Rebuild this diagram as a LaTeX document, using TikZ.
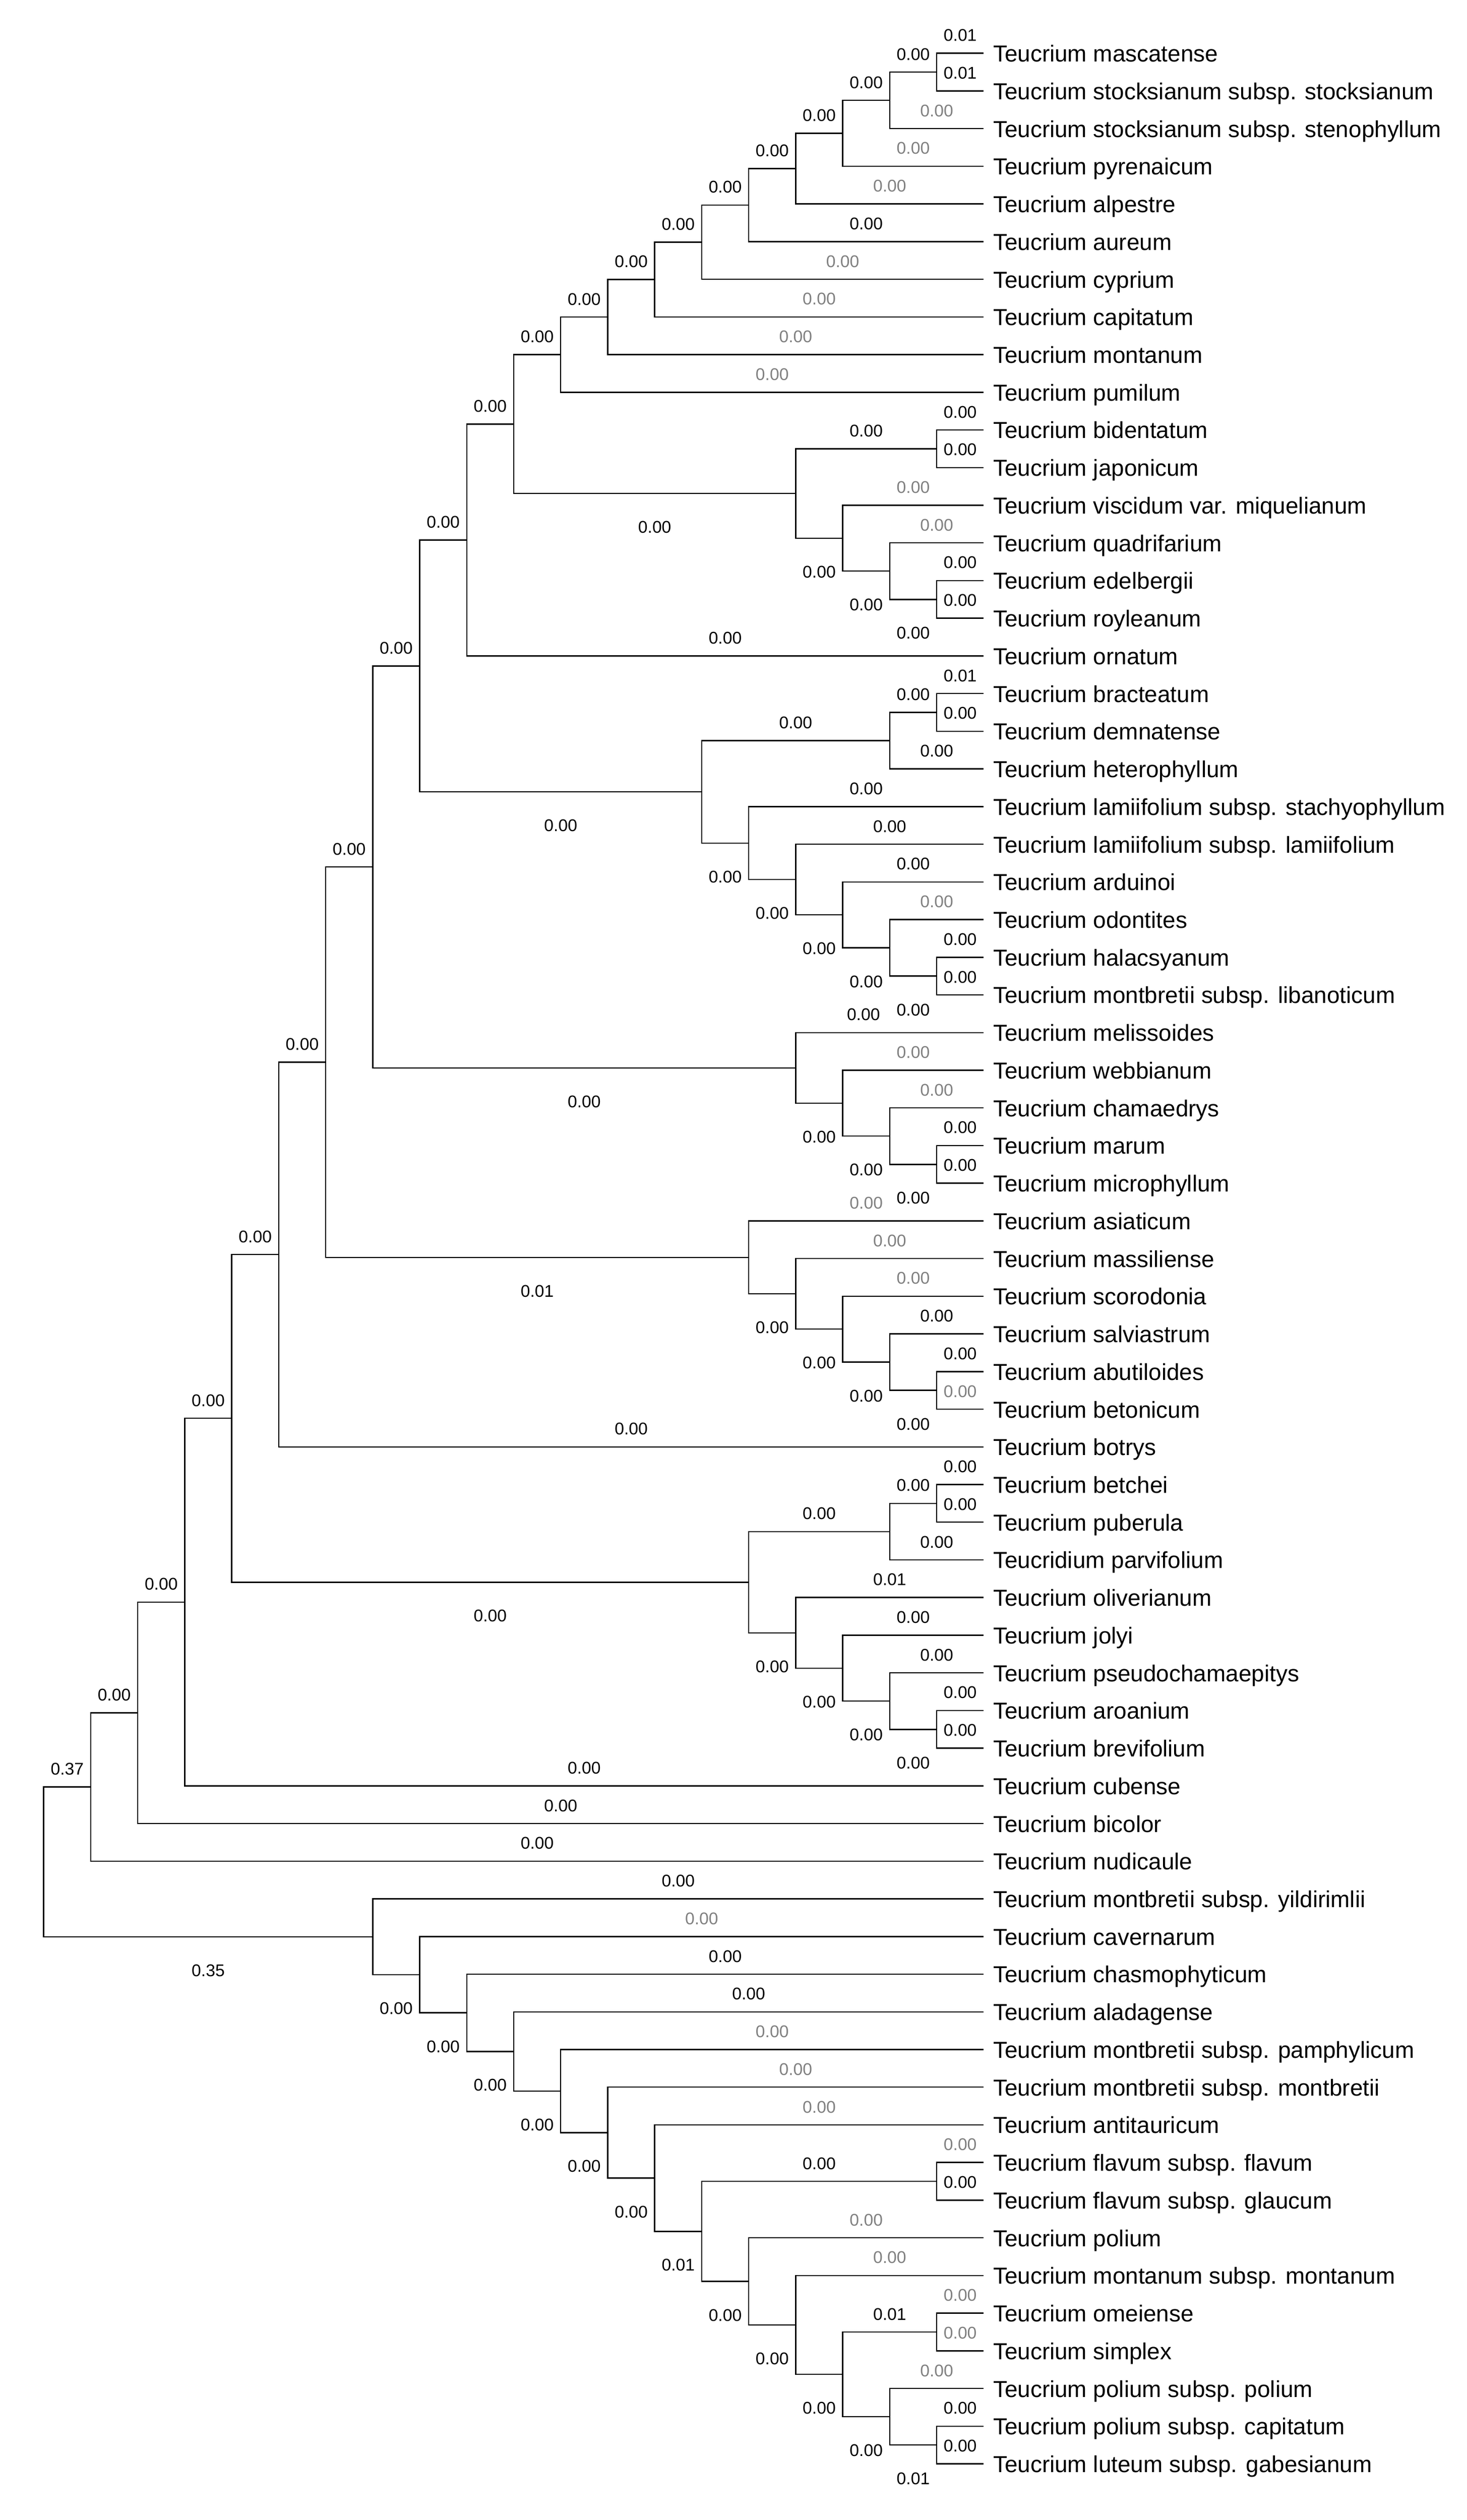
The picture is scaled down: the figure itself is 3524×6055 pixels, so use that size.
\documentclass[tikz,border=0pt]{standalone}
\usepackage{fontspec}
\setmainfont{Liberation Sans}
\usetikzlibrary{calc}

\definecolor{numgray}{RGB}{128,128,128}

% #1 name, #2 height, #3 upper child, #4 lower child,
% #5 upper label options, #6 upper label, #7 lower label options, #8 lower label
\newcommand{\clade}[8]{%
  \coordinate (#1-mid) at ($(#3)!0.5!(#4)$);
  \pgfmathsetmacro{\cladex}{2363-112.9*#2}
  \coordinate (#1) at (\cladex,0 |- #1-mid);
  \draw[branch] (#3) -| (#1) |- (#4);
  \node[blabel, lblup, #5] (#1-u) at ($(#1 |- #3)!0.5!(#3)$) {#6};
  \node[blabel, #7] (#1-l) at ($(#1 |- #4)!0.5!(#4)$) {#8};
}

\begin{document}
\begin{tikzpicture}[x=0.01cm, y=-0.01cm,
    branch/.style={line width=0.85pt},
    taxon/.style={anchor=base west, inner sep=0pt, xshift=0.22cm, yshift=-0.205cm,
      font=\fontsize{15.8}{19}\selectfont},
    blabel/.style={anchor=base, inner sep=0pt, font=\fontsize{11.6}{14}\selectfont},
    lblup/.style={yshift=0.29cm},
    lbldown/.style={yshift=-0.95cm},
    faint/.style={text=numgray}]

  \useasboundingbox (0,0) rectangle (3524,6055);

  % leaves
  \foreach \taxname [count=\i] in {
      Teucrium mascatense,
      Teucrium stocksianum subsp. stocksianum,
      Teucrium stocksianum subsp. stenophyllum,
      Teucrium pyrenaicum,
      Teucrium alpestre,
      Teucrium aureum,
      Teucrium cyprium,
      Teucrium capitatum,
      Teucrium montanum,
      Teucrium pumilum,
      Teucrium bidentatum,
      Teucrium japonicum,
      Teucrium viscidum var. miquelianum,
      Teucrium quadrifarium,
      Teucrium edelbergii,
      Teucrium royleanum,
      Teucrium ornatum,
      Teucrium bracteatum,
      Teucrium demnatense,
      Teucrium heterophyllum,
      Teucrium lamiifolium subsp. stachyophyllum,
      Teucrium lamiifolium subsp. lamiifolium,
      Teucrium arduinoi,
      Teucrium odontites,
      Teucrium halacsyanum,
      Teucrium montbretii subsp. libanoticum,
      Teucrium melissoides,
      Teucrium webbianum,
      Teucrium chamaedrys,
      Teucrium marum,
      Teucrium microphyllum,
      Teucrium asiaticum,
      Teucrium massiliense,
      Teucrium scorodonia,
      Teucrium salviastrum,
      Teucrium abutiloides,
      Teucrium betonicum,
      Teucrium botrys,
      Teucrium betchei,
      Teucrium puberula,
      Teucridium parvifolium,
      Teucrium oliverianum,
      Teucrium jolyi,
      Teucrium pseudochamaepitys,
      Teucrium aroanium,
      Teucrium brevifolium,
      Teucrium cubense,
      Teucrium bicolor,
      Teucrium nudicaule,
      Teucrium montbretii subsp. yildirimlii,
      Teucrium cavernarum,
      Teucrium chasmophyticum,
      Teucrium aladagense,
      Teucrium montbretii subsp. pamphylicum,
      Teucrium montbretii subsp. montbretii,
      Teucrium antitauricum,
      Teucrium flavum subsp. flavum,
      Teucrium flavum subsp. glaucum,
      Teucrium polium,
      Teucrium montanum subsp. montanum,
      Teucrium omeiense,
      Teucrium simplex,
      Teucrium polium subsp. polium,
      Teucrium polium subsp. capitatum,
      Teucrium luteum subsp. gabesianum}{
    \coordinate (L\i) at (2363, {128+(\i-1)*90.5});
    \node[taxon] (T\i) at (L\i) {\taxname};
  }

  % upper group
  \clade{A1}{1}{L1}{L2}{}{0.01}{lblup}{0.01}
  \clade{A2}{2}{A1}{L3}{}{0.00}{lblup,faint}{0.00}
  \clade{A3}{3}{A2}{L4}{}{0.00}{lblup,faint}{0.00}
  \clade{A4}{4}{A3}{L5}{}{0.00}{lblup,faint}{0.00}
  \clade{A5}{5}{A4}{L6}{}{0.00}{lblup}{0.00}
  \clade{A6}{6}{A5}{L7}{}{0.00}{lblup,faint}{0.00}
  \clade{A7}{7}{A6}{L8}{}{0.00}{lblup,faint}{0.00}
  \clade{A8}{8}{A7}{L9}{}{0.00}{lblup,faint}{0.00}
  \clade{A9}{9}{A8}{L10}{}{0.00}{lblup,faint}{0.00}

  \clade{B1}{1}{L11}{L12}{}{0.00}{lblup}{0.00}
  \clade{B2}{1}{L15}{L16}{}{0.00}{lblup}{0.00}
  \clade{B3}{2}{L14}{B2}{faint}{0.00}{lbldown}{0.00}
  \clade{B4}{3}{L13}{B3}{faint}{0.00}{lbldown}{0.00}
  \clade{B5}{4}{B1}{B4}{}{0.00}{lbldown}{0.00}

  \clade{A10}{10}{A9}{B5}{}{0.00}{lbldown}{0.00}
  \clade{A11}{11}{A10}{L17}{}{0.00}{lblup}{0.00}

  \clade{C1}{1}{L18}{L19}{}{0.01}{lblup}{0.00}
  \clade{C2}{2}{C1}{L20}{}{0.00}{lblup}{0.00}
  \clade{C3}{1}{L25}{L26}{}{0.00}{lblup}{0.00}
  \clade{C4}{2}{L24}{C3}{faint}{0.00}{lbldown}{0.00}
  \clade{C5}{3}{L23}{C4}{}{0.00}{lbldown}{0.00}
  \clade{C6}{4}{L22}{C5}{}{0.00}{lbldown}{0.00}
  \clade{C7}{5}{L21}{C6}{}{0.00}{lbldown}{0.00}
  \clade{C8}{6}{C2}{C7}{}{0.00}{lbldown}{0.00}

  \clade{A12}{12}{A11}{C8}{}{0.00}{lbldown}{0.00}

  \clade{D1}{1}{L30}{L31}{}{0.00}{lblup}{0.00}
  \clade{D2}{2}{L29}{D1}{faint}{0.00}{lbldown}{0.00}
  \clade{D3}{3}{L28}{D2}{faint}{0.00}{lbldown}{0.00}
  \clade{D4}{4}{L27}{D3}{xshift=-0.63cm}{0.00}{lbldown}{0.00}

  \clade{A13}{13}{A12}{D4}{}{0.00}{lbldown}{0.00}

  \clade{E1}{1}{L36}{L37}{}{0.00}{lblup,faint}{0.00}
  \clade{E2}{2}{L35}{E1}{}{0.00}{lbldown}{0.00}
  \clade{E3}{3}{L34}{E2}{faint}{0.00}{lbldown}{0.00}
  \clade{E4}{4}{L33}{E3}{faint}{0.00}{lbldown}{0.00}
  \clade{E5}{5}{L32}{E4}{faint}{0.00}{lbldown}{0.00}

  \clade{A14}{14}{A13}{E5}{}{0.00}{lbldown}{0.01}
  \clade{A15}{15}{A14}{L38}{}{0.00}{lblup}{0.00}

  \clade{F1}{1}{L39}{L40}{}{0.00}{lblup}{0.00}
  \clade{F2}{2}{F1}{L41}{}{0.00}{lblup}{0.00}
  \clade{F3}{1}{L45}{L46}{}{0.00}{lblup}{0.00}
  \clade{F4}{2}{L44}{F3}{}{0.00}{lbldown}{0.00}
  \clade{F5}{3}{L43}{F4}{}{0.00}{lbldown}{0.00}
  \clade{F6}{4}{L42}{F5}{}{0.01}{lbldown}{0.00}
  \clade{F7}{5}{F2}{F6}{}{0.00}{lbldown}{0.00}

  \clade{A16}{16}{A15}{F7}{}{0.00}{lbldown}{0.00}
  \clade{A17}{17}{A16}{L47}{}{0.00}{lblup}{0.00}
  \clade{A18}{18}{A17}{L48}{}{0.00}{lblup}{0.00}
  \clade{A19}{19}{A18}{L49}{}{0.00}{lblup}{0.00}

  % lower group
  \clade{G1}{1}{L64}{L65}{}{0.00}{lblup}{0.00}
  \clade{G2}{2}{L63}{G1}{faint}{0.00}{lbldown}{0.01}
  \clade{G3}{1}{L61}{L62}{faint}{0.00}{lblup,faint}{0.00}
  \clade{G4}{3}{G3}{G2}{}{0.01}{lbldown}{0.00}
  \clade{G5}{4}{L60}{G4}{faint}{0.00}{lbldown}{0.00}
  \clade{G6}{5}{L59}{G5}{faint}{0.00}{lbldown}{0.00}
  \clade{G7}{1}{L57}{L58}{faint}{0.00}{lblup}{0.00}
  \clade{G8}{6}{G7}{G6}{}{0.00}{lbldown}{0.00}
  \clade{G9}{7}{L56}{G8}{faint}{0.00}{lbldown}{0.01}
  \clade{G10}{8}{L55}{G9}{faint}{0.00}{lbldown}{0.00}
  \clade{G11}{9}{L54}{G10}{faint}{0.00}{lbldown}{0.00}
  \clade{G12}{10}{L53}{G11}{}{0.00}{lbldown}{0.00}
  \clade{G13}{11}{L52}{G12}{}{0.00}{lbldown}{0.00}
  \clade{G14}{12}{L51}{G13}{faint}{0.00}{lbldown}{0.00}
  \clade{G15}{13}{L50}{G14}{}{0.00}{lbldown}{0.00}

  % root
  \clade{root}{20}{A19}{G15}{}{0.37}{lbldown}{0.35}

\end{tikzpicture}
\end{document}
